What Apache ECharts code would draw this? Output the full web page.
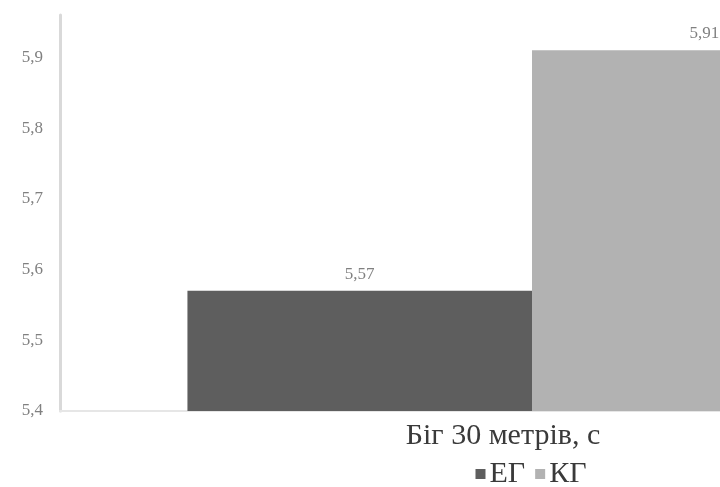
<!DOCTYPE html>
<html>
<head>
<meta charset="utf-8">
<script src="https://cdn.jsdelivr.net/npm/echarts@6/dist/echarts.min.js"></script>
<style>
  html, body { margin: 0; padding: 0; background: #fff; overflow: hidden; width: 720px; height: 487px; }
  #chart { width: 1062px; height: 487px; }
</style>
</head>
<body>
<div id="chart"></div>
<script>
// Results of the 30 m sprint test, seconds
const categories = ['Біг 30 метрів, с'];
const groupNames = ['ЕГ', 'КГ'];
const egValues = [5.57];
const kgValues = [5.91];
const yTicks = [5.4, 5.5, 5.6, 5.7, 5.8, 5.9];

const fmt = v => v.toFixed(2).replace('.', ',');
const serif = '"Liberation Serif", "Times New Roman", serif';

const chart = echarts.init(document.getElementById('chart'), null, { renderer: 'canvas' });

chart.setOption({
  animation: false,
  backgroundColor: '#ffffff',
  grid: { left: 60, right: 58, top: 15, bottom: 76, containLabel: false },
  legend: {
    data: groupNames,
    left: 'center',
    top: 454,
    itemWidth: 10,
    itemHeight: 10,
    itemGap: 10,
    icon: 'rect',
    textStyle: { fontFamily: serif, fontSize: 30, color: '#3a3a3a', padding: [0, 0, 0, -1] }
  },
  xAxis: {
    type: 'category',
    data: categories,
    axisLine: { show: true, lineStyle: { color: '#e6e6e6', width: 2 } },
    axisTick: { show: false },
    axisLabel: {
      fontFamily: serif,
      fontSize: 30,
      color: '#3a3a3a',
      margin: 10,
      padding: [0, 58, 0, 0]
    }
  },
  yAxis: {
    type: 'value',
    min: yTicks[0],
    max: 5.96,
    interval: 0.1,
    splitLine: { show: false },
    axisLine: { show: true, lineStyle: { color: '#d9d9d9', width: 3 } },
    axisTick: { show: false },
    axisLabel: {
      showMaxLabel: false,
      fontFamily: serif,
      fontSize: 17,
      color: '#808080',
      margin: 17,
      formatter: v => (Math.round(v * 10) / 10).toFixed(1).replace('.', ',')
    }
  },
  series: [
    {
      name: groupNames[0],
      type: 'bar',
      data: egValues,
      barGap: '0%',
      barCategoryGap: '27%',
      itemStyle: { color: '#5e5e5e' },
      label: {
        show: true, position: 'top', distance: 8,
        fontFamily: serif, fontSize: 17, color: '#808080',
        formatter: p => fmt(p.value)
      }
    },
    {
      name: groupNames[1],
      type: 'bar',
      data: kgValues,
      itemStyle: { color: '#b2b2b2' },
      label: {
        show: true, position: 'top', distance: 8,
        fontFamily: serif, fontSize: 17, color: '#808080',
        formatter: p => fmt(p.value)
      }
    }
  ]
});
</script>
</body>
</html>
